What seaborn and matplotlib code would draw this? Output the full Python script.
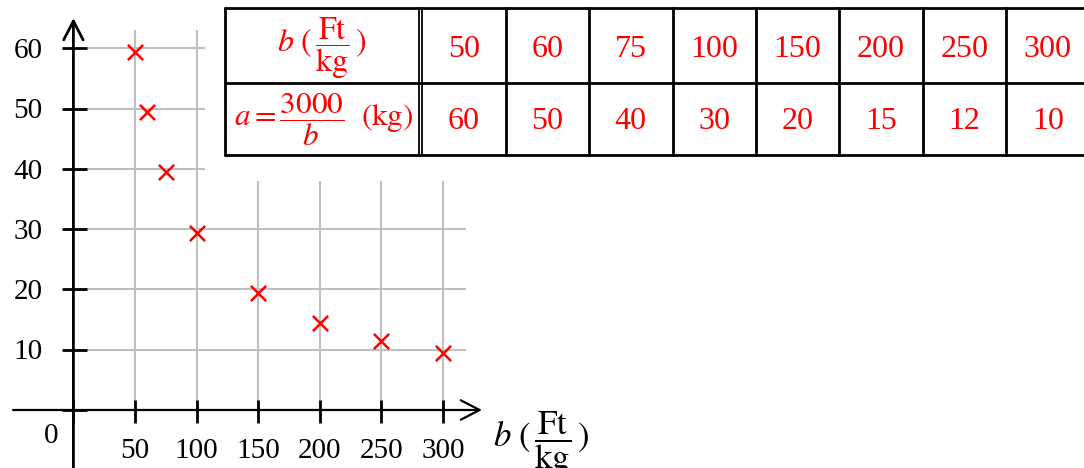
import numpy as np
import pandas as pd
import seaborn as sns
import matplotlib
matplotlib.use('Agg')
import matplotlib.pyplot as plt
from matplotlib.patches import Rectangle, FancyArrowPatch
from matplotlib.lines import Line2D
from matplotlib.transforms import Affine2D, ScaledTranslation

# ---- data ----
b_values = [50, 60, 75, 100, 150, 200, 250, 300]
a_values = [60, 50, 40, 30, 20, 15, 12, 10]
x_ticks = [50, 100, 150, 200, 250, 300]
y_ticks = [10, 20, 30, 40, 50, 60]
header_b = r'$b\ (\,\dfrac{\mathrm{Ft}}{\mathrm{kg}}\,)$'
header_a = r'$a=\dfrac{3000}{b}\ \ (\mathrm{kg})$'
x_label = r'$b\ (\,\dfrac{\mathrm{Ft}}{\mathrm{kg}}\,)$'

sns.set_theme(style='white')
plt.rcParams['font.family'] = ['Liberation Serif', 'DejaVu Serif']
plt.rcParams['mathtext.fontset'] = 'stix'

RED = '#ff0000'
GRID = '#c0c0c0'
W, H = 1084, 468
fig = plt.figure(figsize=(W / 100, H / 100), dpi=100)
ax = fig.add_axes([0, 0, 1, 1])
ax.set_xlim(-59.6, 820.5)
ax.set_ylim(-9.62, 68.0)
ax.axis('off')

# pixel transform (x from left, y from top)
T = Affine2D().scale(1 / W, -1 / H).translate(0, 1) + fig.transFigure

# scatter (drawn first so its collection can be identified)
sns.scatterplot(x=b_values, y=a_values, marker='x', s=120, color=RED,
                linewidth=1.8, ax=ax, zorder=6, legend=False)
ax.set_xlim(-59.6, 820.5)
ax.set_ylim(-9.62, 68.0)
off = ScaledTranslation(0, -3.5 / 100, fig.dpi_scale_trans)
ax.collections[0].set_offset_transform(ax.transData + off)

# grid
ax.vlines(x_ticks, 0, 63, color=GRID, lw=1.5, zorder=1)
ax.hlines(y_ticks, 11, 319, color=GRID, lw=1.5, zorder=1)

# white area behind the table
ax.add_patch(Rectangle((205, 0), 900, 181, transform=T, facecolor='white',
                       edgecolor='none', zorder=2))

# axes with arrows
style = '->,head_length=1.35,head_width=0.7'
ax.add_patch(FancyArrowPatch((-49, 0), (331.7, 0), arrowstyle=style,
                             mutation_scale=10, lw=1.6, color='black',
                             shrinkA=0, shrinkB=0, zorder=4))
ax.add_patch(FancyArrowPatch((0, -9.62), (0, 65.0), arrowstyle=style,
                             mutation_scale=10, lw=2.0, color='black',
                             shrinkA=0, shrinkB=0, zorder=4))

# ticks
ax.hlines(y_ticks + [0], -9.3, 11, color='black', lw=2, zorder=5)
ax.vlines(x_ticks + [0], -2.2, 1.66, color='black', lw=2, zorder=5)

# tick labels
for y in y_ticks:
    ax.annotate(str(y), (0, y), xytext=(-22.4, -7.0), textcoords='offset points',
                ha='right', va='baseline', fontsize=21, color='black')
for x in x_ticks:
    ax.annotate(str(x), (x, 0), xytext=(0, -34.6), textcoords='offset points',
                ha='center', va='baseline', fontsize=21, color='black')
ax.annotate('0', (0, 0), xytext=(-15.8, -23.8), textcoords='offset points',
            ha='center', va='baseline', fontsize=21, color='black')

ax.text(493, 447, x_label, transform=T, ha='left', va='baseline',
        fontsize=25, color='black')

# table
left, top, mid, bottom = 225, 8, 83, 155
dbl1, dbl2 = 419, 422.3
colw = 83.4
n = len(b_values)
right = dbl2 + n * colw
lw_t = 2.0

def hline(y, x0, x1, lw=lw_t):
    fig.add_artist(Line2D([x0, x1], [y, y], transform=T, color='black', lw=lw, zorder=10))

def vline(x, y0, y1, lw=lw_t):
    fig.add_artist(Line2D([x, x], [y0, y1], transform=T, color='black', lw=lw, zorder=10))

for y in (top, mid, bottom):
    hline(y, left, right)
vline(left, top, bottom)
vline(dbl1, top, bottom, lw=1.3)
vline(dbl2, top, bottom, lw=1.3)
for i in range(1, n + 1):
    vline(dbl2 + i * colw, top, bottom)

hc = (left + dbl1) / 2
ax.text(hc, 48, header_b, transform=T, ha='center', va='center',
        fontsize=23, color=RED, zorder=11)
ax.text(hc + 1.5, 120, header_a, transform=T, ha='center', va='center',
        fontsize=22.4, color=RED, zorder=11)
for i, (b, a) in enumerate(zip(b_values, a_values)):
    cx = dbl2 + (i + 0.5) * colw
    ax.text(cx, 57, str(b), transform=T, ha='center', va='baseline',
            fontsize=23, color=RED, zorder=11)
    ax.text(cx, 129, str(a), transform=T, ha='center', va='baseline',
            fontsize=23, color=RED, zorder=11)

fig.savefig('out.png', dpi=100)
